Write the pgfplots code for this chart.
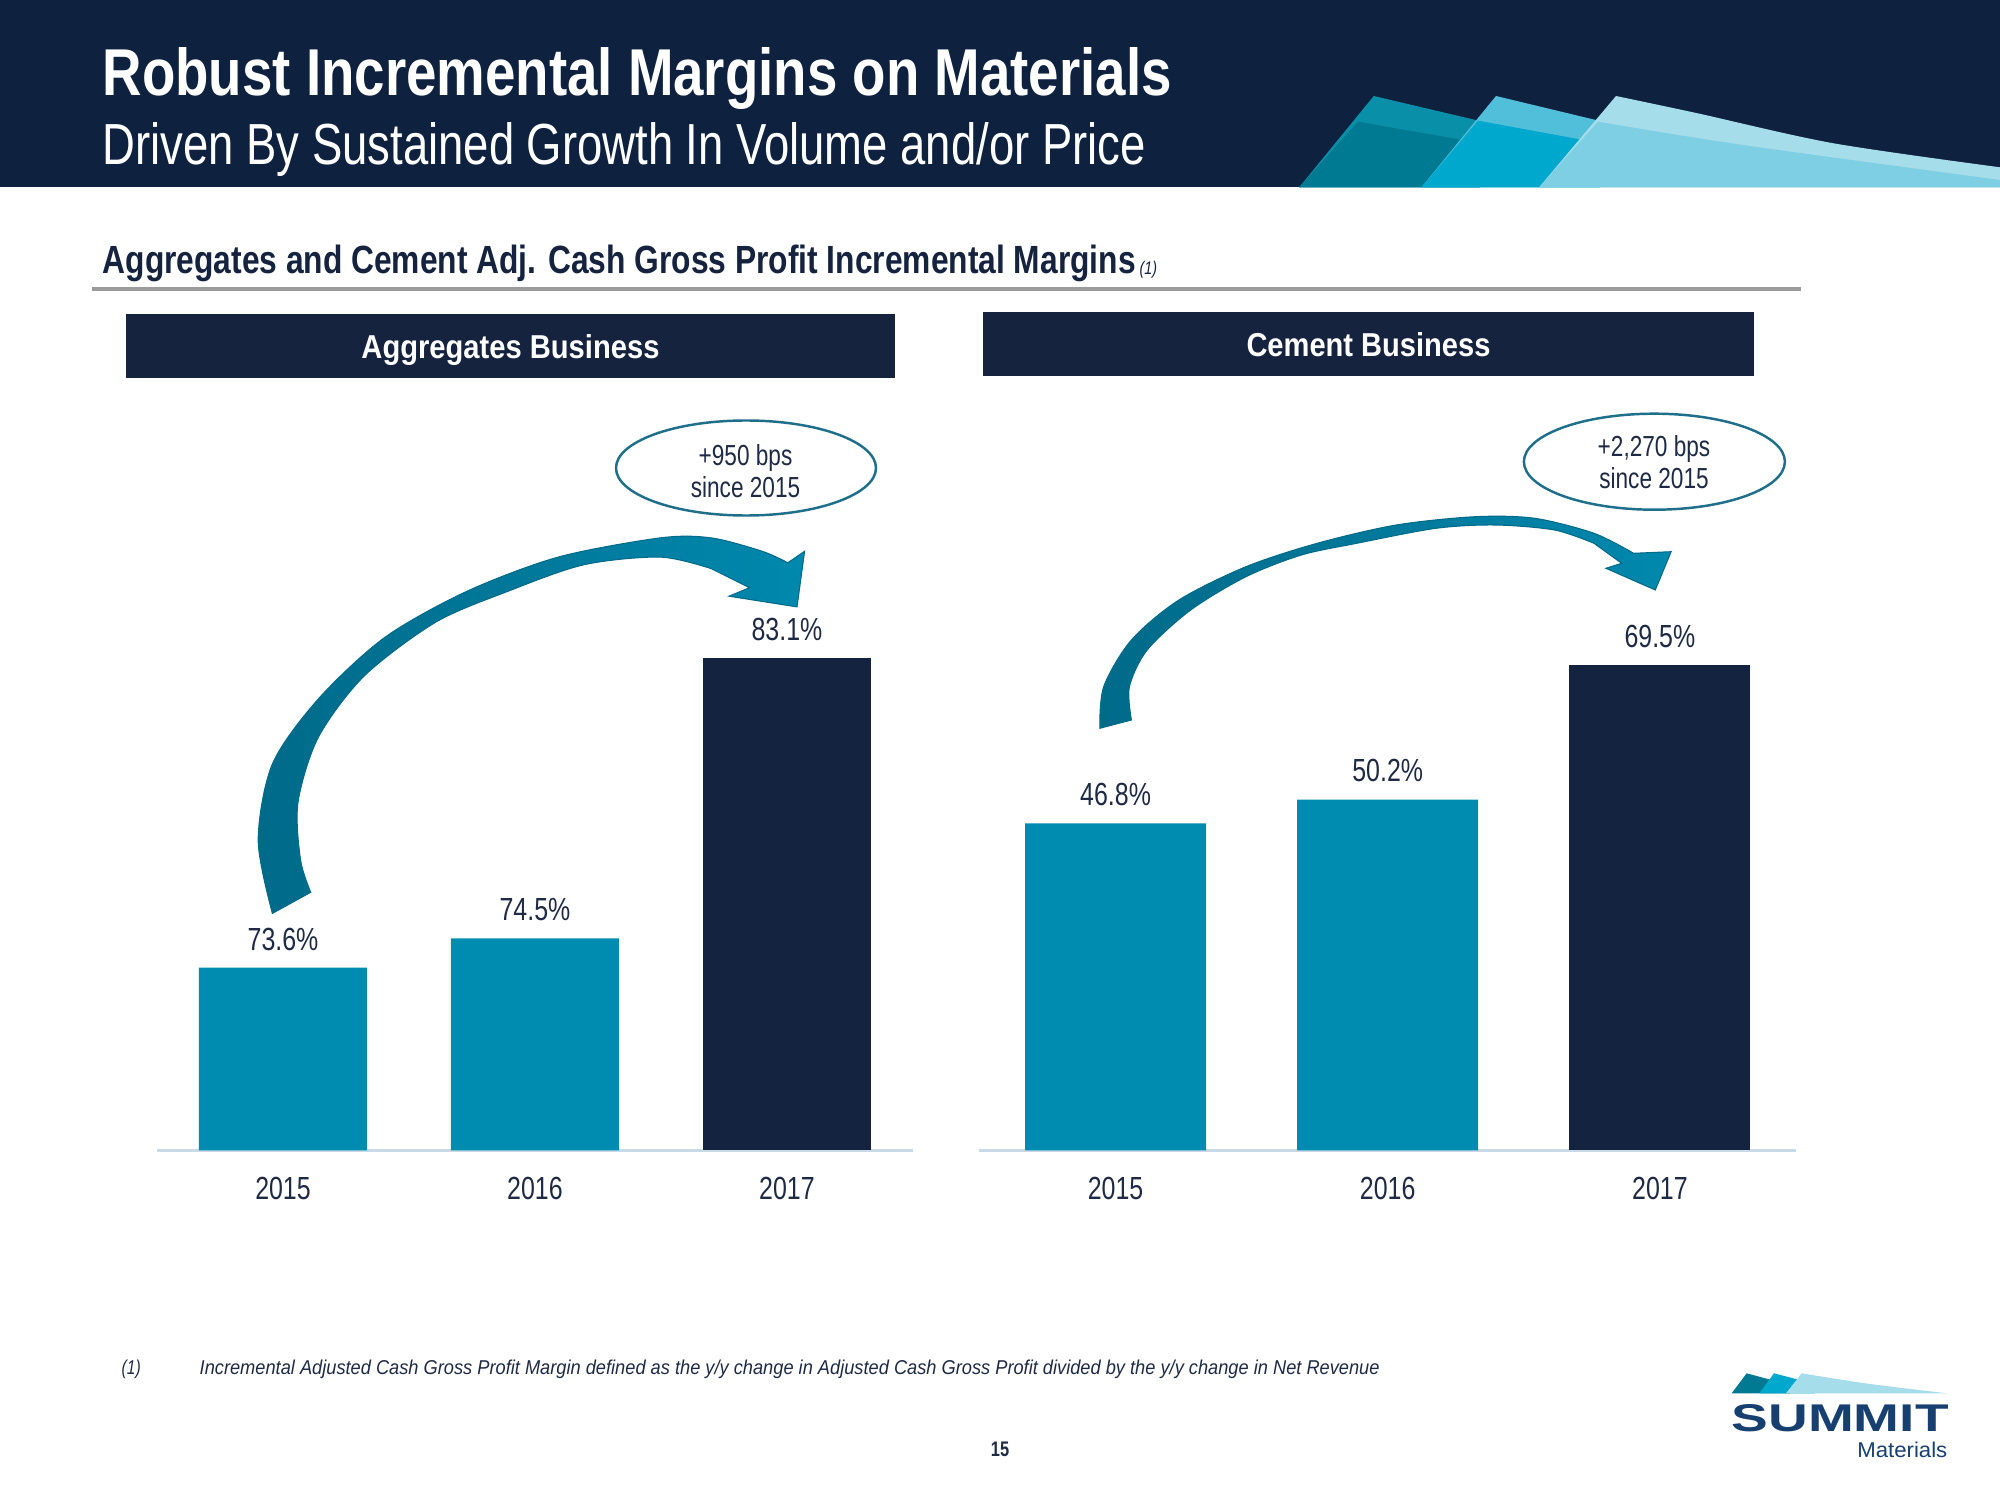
\documentclass[border=0pt]{standalone}
\usepackage{fontspec}
\setmainfont[FakeStretch=0.78]{Liberation Sans}
\newfontfamily\plainsans{Liberation Sans}
\usepackage{graphicx}
\usepackage{pgfplots}
\pgfplotsset{compat=1.18}

\definecolor{headnavy}{HTML}{0E2240}
\definecolor{boxnavy}{HTML}{15233F}
\definecolor{bardark}{HTML}{14233F}
\definecolor{barlight}{HTML}{008BB0}
\definecolor{labeltext}{HTML}{1F2A44}
\definecolor{axisline}{HTML}{C8DAE6}
\definecolor{rulegray}{HTML}{9B9B9B}
\definecolor{ellblue}{HTML}{1F6E8A}
\definecolor{arrowdark}{HTML}{006A89}
\definecolor{arrowlight}{HTML}{0088AD}
\definecolor{sailAup}{HTML}{0A8FA8}
\definecolor{sailAlo}{HTML}{007A92}
\definecolor{sailBup}{HTML}{52BFDA}
\definecolor{sailBlo}{HTML}{00A8CE}
\definecolor{sailCup}{HTML}{A6DDEA}
\definecolor{sailClo}{HTML}{7ECFE3}
\definecolor{logoblue}{HTML}{173F70}

% label fonts
\newcommand{\lblfont}{\fontsize{9.1}{11}\selectfont}
\newcommand{\ellfont}{\fontsize{8.25}{10}\selectfont}

\pgfplotsset{
  bizbars/.style={
    scale only axis,
    anchor=south west,
    xmin=-0.5, xmax=2.5,
    hide y axis,
    axis x line*=bottom,
    x axis line style={-, draw=axisline, line width=0.6pt},
    xtick={0,1,2},
    xticklabels={2015,2016,2017},
    major tick length=0pt,
    xticklabel style={font=\lblfont, text=labeltext, anchor=north, inner sep=0pt, yshift=-0.255cm},
    /pgf/number format/assume math mode=true,
    ybar,
    nodes near coords={\pgfmathprintnumber[fixed,fixed zerofill,precision=1]{\pgfplotspointmeta}\%},
    every node near coord/.append style={font=\lblfont, text=labeltext, anchor=south, inner sep=0pt, yshift=0.166cm},
  }
}

\begin{document}
\begin{tikzpicture}
\begin{scope}[x=0.1mm,y=-0.1mm]
\path[use as bounding box] (0,0) rectangle (2000,1500);
\fill[white] (0,0) rectangle (2000,1500);

% header band
\fill[headnavy] (0,0) rectangle (2000,187.5);
% sails
\fill[sailAup] (1299,187.5) -- (1373.8,96) -- (1480,121) -- (1480,187.5) -- cycle;
\fill[sailAlo] (1299,187.5) -- (1358,121.7) -- (1480,143) -- (1480,187.5) -- cycle;
\fill[sailBup] (1421.3,187.5) -- (1496,96) -- (1600,121) -- (1600,187.5) -- cycle;
\fill[sailBlo] (1421.3,187.5) -- (1478,120.7) -- (1600,143) -- (1600,187.5) -- cycle;
\fill[sailCup] (1539,187.5) -- plot[smooth] coordinates {(1616,96) (1697.6,113.3) (1833.5,143.3) (2000,167.3)} -- (2000,187.5) -- cycle;
\fill[sailClo] (1539,187.5) -- plot[smooth] coordinates {(1598,121.7) (1743,145) (2000,180)} -- (2000,187.5) -- cycle;

\node[anchor=base west, inner sep=0, text=white, font=\fontsize{19}{22}\selectfont\bfseries]
  at (102,96) {\resizebox{10.69cm}{0.48cm}{Robust Incremental Margins on Materials}};
\node[anchor=base west, inner sep=0, text=white, font=\fontsize{16.7}{20}\selectfont]
  at (102,164.5) {\resizebox{10.43cm}{0.42cm}{Driven By Sustained Growth In Volume and/or Price}};

% section title
\node[anchor=base west, inner sep=0, text=boxnavy, font=\fontsize{11}{13}\selectfont\bfseries]
  at (102,274) {\resizebox{10.33cm}{0.285cm}{Aggregates and Cement Adj. Cash Gross Profit Incremental Margins}};
\node[anchor=base west, inner sep=0, text=boxnavy, font=\fontsize{5.2}{6}\selectfont\itshape]
  at (1139,275) {(1)};
\fill[rulegray] (92,287.5) rectangle (1801,291.5);

% panel headers
\fill[boxnavy] (126,314) rectangle (895,378);
\fill[boxnavy] (983,312.5) rectangle (1754,376);
\node[anchor=base, inner sep=0, text=white, font=\fontsize{9.5}{11}\selectfont\bfseries]
  at (510.5,358.4) {\resizebox{2.98cm}{0.24cm}{Aggregates Business}};
\node[anchor=base, inner sep=0, text=white, font=\fontsize{9.5}{11}\selectfont\bfseries]
  at (1368.5,357) {\resizebox{2.44cm}{0.24cm}{Cement Business}};
\end{scope}

% Aggregates Business
\begin{axis}[bizbars, at={(1.57cm,-11.505cm)}, width=7.56cm, height=7.18cm,
  ymin=68, ymax=90, bar width=1.68cm]
\addplot[fill=barlight, draw=none, bar shift=0pt] coordinates {(0,73.6) (1,74.5)};
\addplot[fill=bardark, draw=none, bar shift=0pt] coordinates {(2,83.1)};
\end{axis}

% Cement Business
\begin{axis}[bizbars, at={(9.795cm,-11.505cm)}, width=8.165cm, height=6.99cm,
  ymin=0, ymax=100, bar width=1.81cm]
\addplot[fill=barlight, draw=none, bar shift=0pt] coordinates {(0,46.8) (1,50.2)};
\addplot[fill=bardark, draw=none, bar shift=0pt] coordinates {(2,69.5)};
\end{axis}

\begin{scope}[x=0.1mm,y=-0.1mm]
% curved arrows
\path[left color=arrowdark, right color=arrowlight, draw=arrowdark, line width=0.3pt]
  plot[smooth] coordinates {(272.4,913.4) (258.2,840.6) (272.4,764) (318.4,698.9) (384.7,637.5)
    (466.3,591.6) (558.2,557.1) (660.2,537.9) (711.2,537.9) (762.2,551.3) (787.8,562.8)}
  -- (804.6,551.3) -- (797,606.9) -- (729,596.2) -- (749.5,587.7)
  -- plot[smooth] coordinates {(711.2,568.6) (660.2,557.1) (583.7,564.8) (507.1,591.6)
    (435.7,622.2) (364.3,675.9) (318.4,737.2) (298,802.3) (300.5,859.8) (310.7,892.3)}
  -- cycle;
\path[left color=arrowdark, right color=arrowlight, draw=arrowdark, line width=0.3pt]
  plot[smooth] coordinates {(1099.8,728.3) (1103.7,686.7) (1131.4,640) (1178.9,600) (1246,566.7)
    (1317.2,543.3) (1396.3,525) (1475.4,516.7) (1534.7,518.3) (1594,533.3) (1633.6,553.3)}
  -- (1671.1,551.7) -- (1655.3,590) -- (1605.9,568.3) -- (1621.7,563.3)
  -- plot[smooth] coordinates {(1594,543.3) (1554.5,530) (1495.2,525) (1435.9,528.3) (1356.8,543.3)
    (1301.4,555) (1246,576.7) (1190.7,610) (1147.2,650) (1129.4,686.7) (1131.4,720)}
  -- cycle;

% callouts
\draw[ellblue, line width=0.7pt, fill=white] (746,468) ellipse [x radius=130, y radius=47.5];
\node[anchor=base, inner sep=0, text=labeltext, font=\ellfont] at (745.5,466) {+950 bps};
\node[anchor=base, inner sep=0, text=labeltext, font=\ellfont] at (745.5,498) {since 2015};
\draw[ellblue, line width=0.7pt, fill=white] (1654.4,461.7) ellipse [x radius=130.5, y radius=48];
\node[anchor=base, inner sep=0, text=labeltext, font=\ellfont] at (1654,457) {+2,270 bps};
\node[anchor=base, inner sep=0, text=labeltext, font=\ellfont] at (1654,489) {since 2015};

% footnote
\node[anchor=base west, inner sep=0, text=labeltext, font=\fontsize{5.7}{7}\selectfont\itshape]
  at (121,1374) {(1)};
\node[anchor=base west, inner sep=0, text=labeltext, font=\fontsize{5.7}{7}\selectfont\itshape]
  at (199,1374) {\resizebox{11.8cm}{0.145cm}{Incremental Adjusted Cash Gross Profit Margin defined as the y/y change in Adjusted Cash Gross Profit divided by the y/y change in Net Revenue}};
\node[anchor=base, inner sep=0, text=labeltext, font=\fontsize{6}{7}\selectfont\bfseries]
  at (1000,1456) {15};

% logo
\fill[sailAlo] (1731.7,1393.3) -- (1746.7,1373.3) -- (1790,1385) -- (1790,1393.3) -- cycle;
\fill[sailBlo] (1759.3,1393.3) -- (1774,1373.3) -- (1815,1384) -- (1815,1393.3) -- cycle;
\fill[sailCup] (1786,1393.3) -- plot[smooth] coordinates {(1801.7,1373.3) (1866.7,1383.5) (1946.7,1393.3)} -- cycle;
\node[anchor=base west, inner sep=0, text=logoblue, font=\plainsans\bfseries\fontsize{12}{14}\selectfont]
  at (1731,1431) {\resizebox{2.17cm}{0.27cm}{SUMMIT}};
\node[anchor=base east, inner sep=0, text=logoblue, font=\plainsans\fontsize{6.2}{7}\selectfont]
  at (1948,1457) {\resizebox{0.9cm}{0.155cm}{Materials}};
\end{scope}
\end{tikzpicture}
\end{document}
